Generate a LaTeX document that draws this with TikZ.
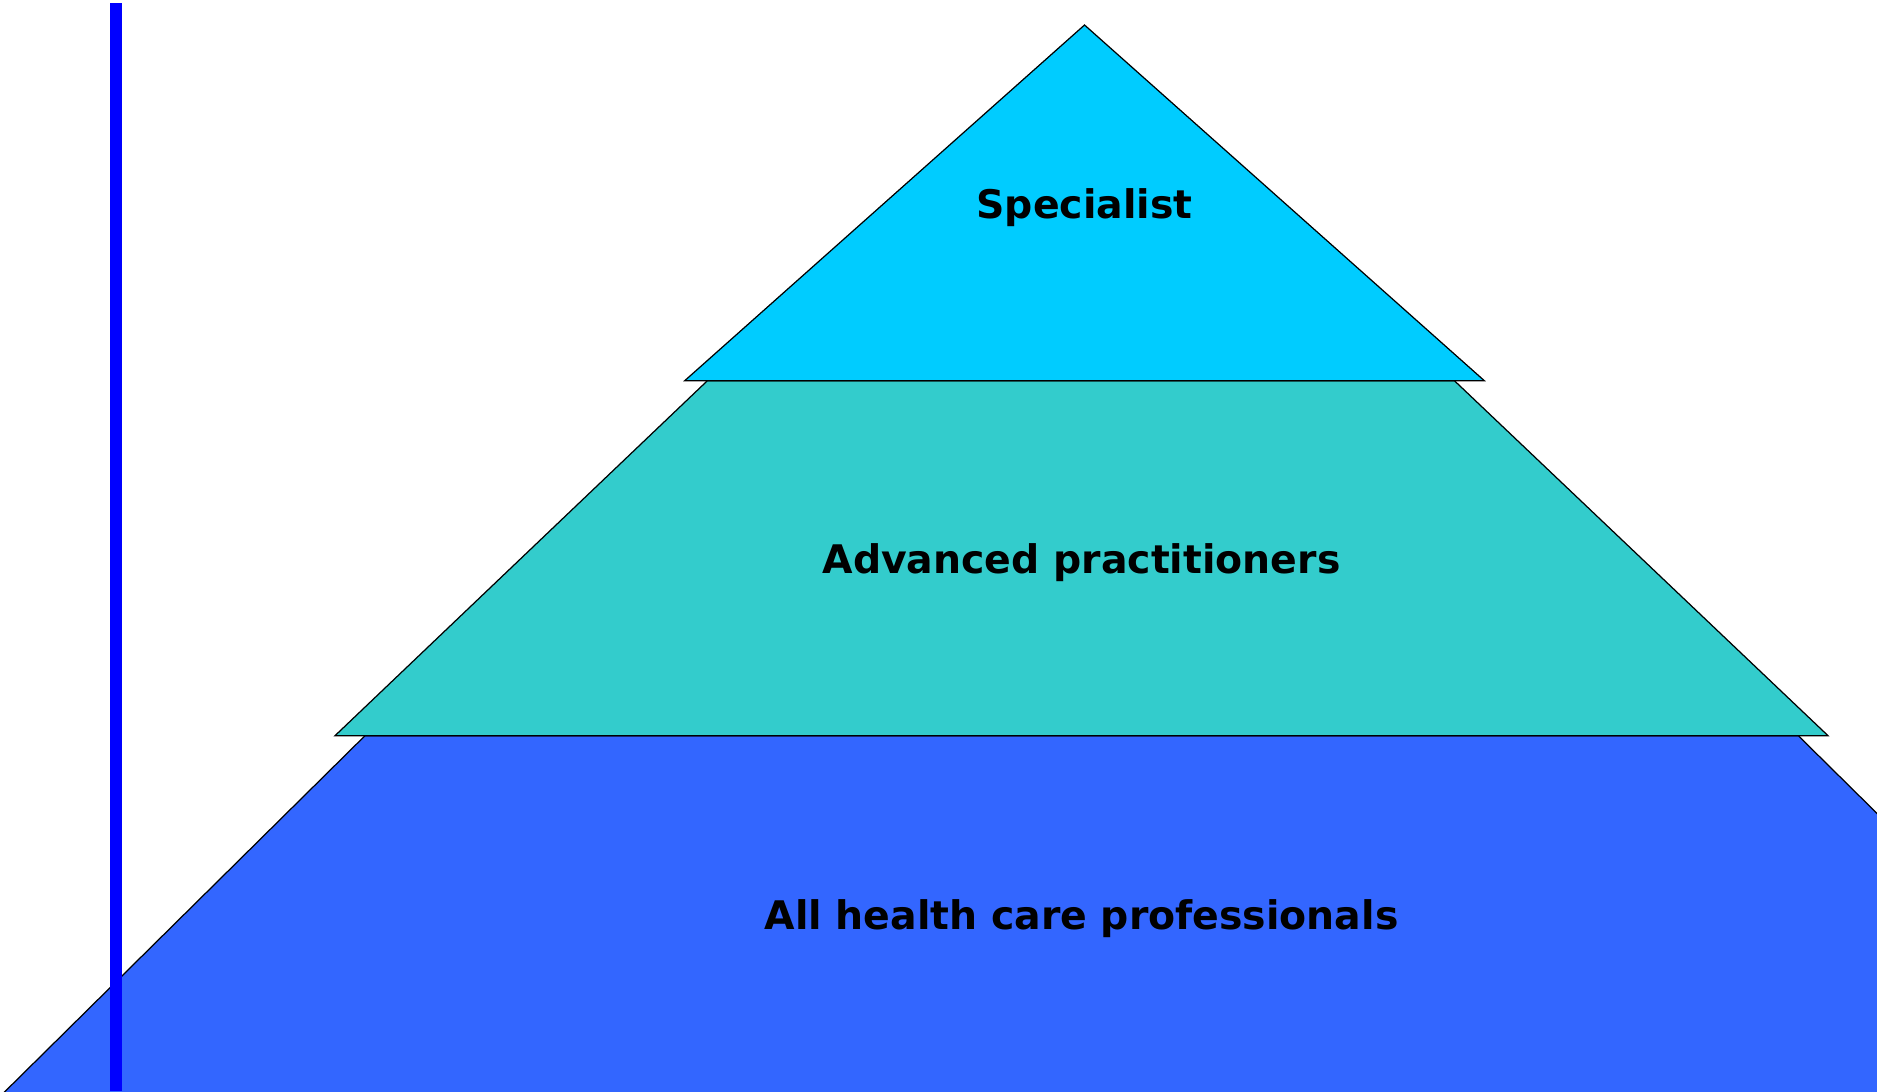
\documentclass[tikz,border=0pt]{standalone}
\usepackage{fontspec}
\setmainfont{DejaVu Sans}
\definecolor{tierTop}{HTML}{00CCFF}
\definecolor{tierMid}{HTML}{33CCCC}
\definecolor{tierBase}{HTML}{3366FF}
\definecolor{axisBlue}{HTML}{0000FF}
\begin{document}
\begin{tikzpicture}[x=0.01cm,y=-0.01cm,
  tier/.style={draw=black,line width=0.35pt,line join=miter},
  tierlabel/.style={anchor=base,font=\bfseries\fontsize{11.2}{13}\selectfont,text=black,inner sep=0pt}]
  \useasboundingbox (0,0) rectangle (1877,1091);
  \fill[white] (0,0) rectangle (1877,1091);
  \begin{scope}
    \clip (0,0) rectangle (1877,1091);
    % base tier
    \filldraw[tier,fill=tierBase] (365,735.7) -- (1798.3,735.7) -- (2160,1093) -- (3.5,1093) -- cycle;
    % middle tier
    \filldraw[tier,fill=tierMid] (707.4,380.7) -- (1454.4,380.7) -- (1828,735.7) -- (335,735.7) -- cycle;
    % top tier
    \filldraw[tier,fill=tierTop] (1084.5,25) -- (1484.3,380.7) -- (684.7,380.7) -- cycle;
    % vertical bar
    \fill[axisBlue] (109.5,3.5) rectangle (122,1091);
  \end{scope}
  \node[tierlabel] (spec) at (1084.5,218) {Specialist};
  \node[tierlabel] (adv) at (1081.5,573) {Advanced practitioners};
  \node[tierlabel] (all) at (1081.5,929) {All health care professionals};
\end{tikzpicture}
\end{document}
